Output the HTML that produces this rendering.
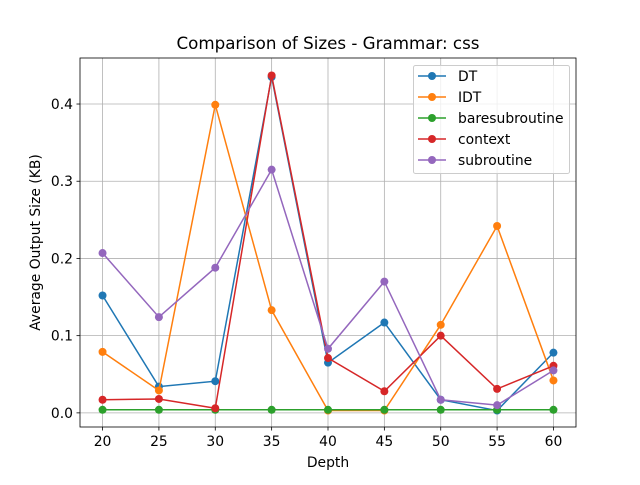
<!DOCTYPE html>
<html><head><meta charset="utf-8"><style>
body{margin:0;background:#fff;font-family:"Liberation Sans","DejaVu Sans",sans-serif;}
svg text{font-family:"DejaVu Sans","Liberation Sans",sans-serif;}
</style></head><body>
<svg id="chart" width="640" height="480" xmlns="http://www.w3.org/2000/svg"></svg>
<script>
const depths=[20,25,30,35,40,45,50,55,60];
const dtValues=[0.152,0.034,0.041,0.435,0.065,0.117,0.017,0.003,0.078];
const idtValues=[0.079,0.029,0.399,0.133,0.003,0.003,0.114,0.242,0.042];
const bareValues=[0.004,0.004,0.004,0.004,0.004,0.004,0.004,0.004,0.004];
const contextValues=[0.017,0.018,0.006,0.437,0.071,0.028,0.100,0.031,0.061];
const subValues=[0.207,0.124,0.188,0.315,0.083,0.170,0.017,0.010,0.055];
const seriesNames=["DT","IDT","baresubroutine","context","subroutine"];
const seriesValues=[dtValues,idtValues,bareValues,contextValues,subValues];
const colors=["#1f77b4","#ff7f0e","#2ca02c","#d62728","#9467bd"];
const xTicks=[20,25,30,35,40,45,50,55,60];
const yTicks=[0.0,0.1,0.2,0.3,0.4];

const L=80,R=576,T=58,B=427;
const xMin=18,xMax=62,yMin=-0.0183,yMax=0.4596;
const sx=v=>L+(v-xMin)/(xMax-xMin)*(R-L);
const sy=v=>B-(v-yMin)/(yMax-yMin)*(B-T);
const svg=document.getElementById('chart');
const NS="http://www.w3.org/2000/svg";
function mk(tag,attrs,parent){const e=document.createElementNS(NS,tag);for(const k in attrs)e.setAttribute(k,attrs[k]);(parent||svg).appendChild(e);return e;}

xTicks.forEach(t=>{const l=mk('line',{x1:sx(t),x2:sx(t),y1:T,y2:B,stroke:'#b0b0b0','stroke-width':0.8});

});
yTicks.forEach(t=>{const l=mk('line',{x1:L,x2:R,y1:sy(t),y2:sy(t),stroke:'#b0b0b0','stroke-width':0.8});

});

seriesValues.forEach((vals,i)=>{
 const g=mk('g',{});
 
 
 mk('polyline',{points:vals.map((v,j)=>sx(depths[j])+','+sy(v)).join(' '),fill:'none',stroke:colors[i],'stroke-width':1.5},g);
 vals.forEach((v,j)=>{const c=mk('circle',{cx:sx(depths[j]),cy:sy(v),r:4,fill:colors[i]},g);
 
 });
});

const fr=mk('rect',{x:L,y:T,width:R-L,height:B-T,fill:'none',stroke:'#000','stroke-width':0.8});



xTicks.forEach(t=>{mk('line',{x1:sx(t),x2:sx(t),y1:B,y2:B+3.5,stroke:'#000','stroke-width':0.8});
const tx=mk('text',{x:sx(t),y:B+19,'text-anchor':'middle','font-size':13.9});tx.textContent=t;

});
yTicks.forEach(t=>{mk('line',{x1:L-3.5,x2:L,y1:sy(t),y2:sy(t),stroke:'#000','stroke-width':0.8});
const tx=mk('text',{x:L-7,y:sy(t)+5,'text-anchor':'end','font-size':13.9});tx.textContent=t.toFixed(1);

});

let t=mk('text',{x:(L+R)/2,y:467,'text-anchor':'middle','font-size':13.9});t.textContent='Depth';


t=mk('text',{x:0,y:0,'text-anchor':'middle','font-size':13.9,transform:`translate(40,${(T+B)/2}) rotate(-90)`});t.textContent='Average Output Size (KB)';


t=mk('text',{x:(L+R)/2,y:49,'text-anchor':'middle','font-size':16.7});t.textContent='Comparison of Sizes - Grammar: css';



const lg=mk('g',{});


mk('rect',{x:413.5,y:65.5,width:156,height:108,rx:2,fill:'#fff','fill-opacity':0.8,stroke:'#ccc'},lg);
seriesNames.forEach((n,i)=>{const y=76+i*21;
 const e=mk('g',{},lg);
 
 
 mk('line',{x1:418,x2:446,y1:y,y2:y,stroke:colors[i],'stroke-width':1.5},e);
 mk('circle',{cx:432,cy:y,r:4,fill:colors[i]},e);
 const tx=mk('text',{x:458,y:y+5,'font-size':13.9},e);tx.textContent=n;});
</script>
</body></html>
